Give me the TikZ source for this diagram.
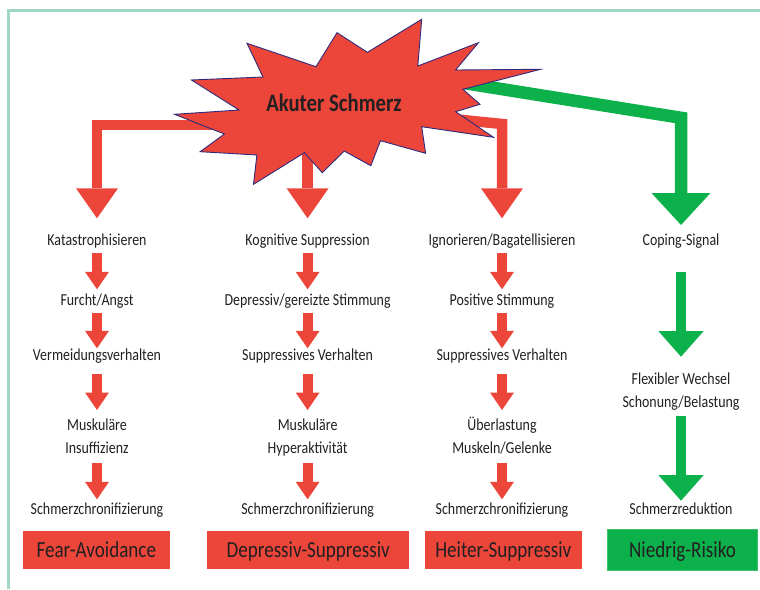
\documentclass[tikz,border=0pt]{standalone}
\usepackage{fontspec}
\setmainfont{Carlito}[FakeStretch=0.83]
\usetikzlibrary{arrows.meta,calc}
\definecolor{cred}{HTML}{EC463B}
\definecolor{cgreen}{HTML}{0DB14B}
\definecolor{cgreenl}{HTML}{3DC06C}
\definecolor{cframe}{HTML}{A0D8C5}
\definecolor{cline}{HTML}{2E2A7C}
\definecolor{ctext}{HTML}{231F20}
\begin{document}
\begin{tikzpicture}[x=1pt,y=-1pt,
  lbl/.style={text=ctext,font=\fontsize{16.8}{23.3}\selectfont,align=center,inner sep=0pt,anchor=base},
  box/.style={text=ctext,font=\fontsize{23}{26}\selectfont,inner sep=0pt,text height=14pt,text depth=0pt,minimum height=38pt},
  bigred/.style={draw=cred,line width=10.5pt,line join=miter,-{Triangle[width=42pt,length=30pt,line width=0pt]}},
  biggreen/.style={draw=cgreen,line width=12.5pt,line join=miter,-{Triangle[width=59pt,length=32pt,line width=0pt]}},
  smallred/.style={draw=cred,line width=10pt,-{Triangle[width=24pt,length=17.5pt,line width=0pt]}},
  smallgreen/.style={draw=cgreen,line width=10.5pt,-{Triangle[width=45pt,length=25.5pt,line width=0pt]}}
]
\useasboundingbox (0,0) rectangle (760,589);
% frame
\draw[cframe,line width=2.5pt,line join=miter] (8.3,589) -- (8.3,10.3) -- (760,10.3);

% labels column 1
\node[lbl] (k1) at (97,245) {Katastrophisieren};
\node[lbl] (k2) at (97,305) {Furcht/Angst};
\node[lbl] (k3) at (97,360.7) {Vermeidungsverhalten};
\node[lbl] (k4) at (97,453.3) {Muskuläre\\Insuffizienz};
\node[lbl] (k5) at (97,514) {Schmerzchronifizierung};
\node[box,fill=cred,minimum width=147.3pt] (b1) at (96.3,550) {Fear-Avoidance};

% column 2
\node[lbl] (m1) at (307.6,245) {Kognitive Suppression};
\node[lbl] (m2) at (307.6,305) {Depressiv/gereizte Stimmung};
\node[lbl] (m3) at (307.6,360.7) {Suppressives Verhalten};
\node[lbl] (m4) at (307.6,453.3) {Muskuläre\\Hyperaktivität};
\node[lbl] (m5) at (307.6,514) {Schmerzchronifizierung};
\node[box,fill=cred,minimum width=201.7pt] (b2) at (308.2,550) {Depressiv-Suppressiv};

% column 3
\node[lbl] (i1) at (502,245) {Ignorieren/Bagatellisieren};
\node[lbl] (i2) at (502,305) {Positive Stimmung};
\node[lbl] (i3) at (502,360.7) {Suppressives Verhalten};
\node[lbl] (i4) at (502,453.3) {Überlastung\\Muskeln/Gelenke};
\node[lbl] (i5) at (502,514) {Schmerzchronifizierung};
\node[box,fill=cred,minimum width=156.7pt] (b3) at (503.3,550) {Heiter-Suppressiv};

% column 4
\node[lbl] (g1) at (681,245.7) {Coping-Signal};
\node[lbl] (g2) at (681,407.5) {Flexibler Wechsel\\Schonung/Belastung};
\node[lbl] (g3) at (681,514) {Schmerzreduktion};
\node[box,fill=cgreen,draw=cgreenl,line width=1pt,minimum width=149.6pt,minimum height=40.7pt] (b4) at (682.5,550.3) {Niedrig-Risiko};

% small arrows
\foreach \c in {k,m,i}{
  \draw[smallred] ($(\c1.base)+(0,8.3)$) -- ($(\c2.base)+(0,-15.7)$);
  \draw[smallred] ($(\c2.base)+(0,7.7)$) -- ($(\c3.base)+(0,-12.4)$);
  \draw[smallred] ($(\c3.base)+(0,13.6)$) -- ($(\c4.base)+(0,-43.3)$);
  \draw[smallred] ($(\c4.base)+(0,9.4)$) -- ($(\c5.base)+(0,-14.7)$);
}
\draw[smallgreen] ($(g1.base)+(0,26)$) -- ($(g2.base)+(0,-50.8)$);
\draw[smallgreen] ($(g2.base)+(0,8.5)$) -- ($(g3.base)+(0,-13.3)$);

% centre of the burst label
\coordinate (bc) at (334,111.7);

% big connectors
\draw[bigred] ($(bc)+(-84,13.3)$) -| ($(k1.base)+(0,-26.7)$);
\draw[bigred] ($(bc)+(-26.4,30)$) -- ($(m1.base)+(0,-26.7)$);
\draw[bigred] ($(bc)+(66,2)$) -- ($(i1.base)+(0,-121)$) -- ($(i1.base)+(0,-26.7)$);
\draw[biggreen] ($(bc)+(86,-35.7)$) -- ($(g1.base)+(0,-127.9)$) -- ($(g1.base)+(0,-20.7)$);

% starburst
\draw[fill=cred,draw=cline,line width=0.9pt,line join=miter]
  (174.5,114.3) -- (239,110) -- (191.5,80) -- (263,77) -- (247,43.3) -- (316,66.7)
  -- (337,32.7) -- (367.4,52.3) -- (421.7,19.3) -- (417.8,66) -- (478.4,42.7)
  -- (455.6,70) -- (540.5,69.3) -- (462.9,89.3) -- (479.9,104.3) -- (455.6,111.7)
  -- (493.5,137.3) -- (421.7,126.7) -- (425.6,153.3) -- (380.5,140.7) -- (370.8,165.7)
  -- (344.2,151) -- (322.3,172.7) -- (304.4,152.7) -- (253.5,184.3) -- (256.9,155)
  -- (200.2,151.7) -- (224.4,134) -- cycle;
\node[text=ctext,font=\bfseries\fontsize{25}{28}\selectfont,inner sep=0pt,anchor=base] (burst) at (bc) {Akuter Schmerz};
\end{tikzpicture}
\end{document}
